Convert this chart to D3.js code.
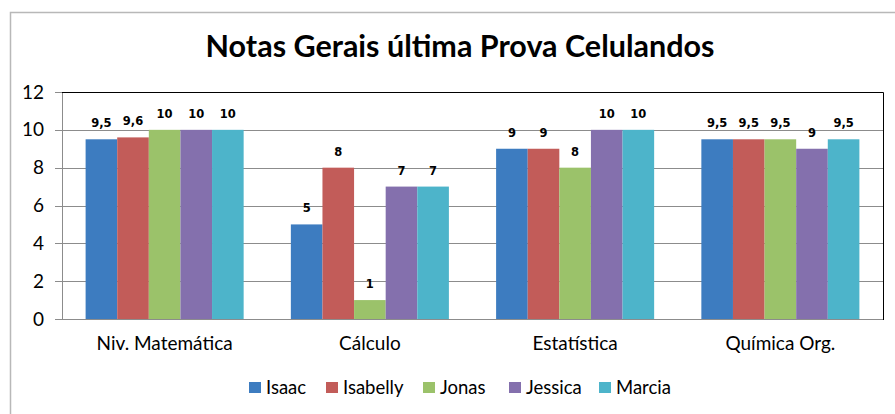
<!DOCTYPE html>
<html>
<head>
<meta charset="utf-8">
<script src="https://cdn.jsdelivr.net/npm/d3@7"></script>
<style>
  body { margin: 0; background: #fff; }
  svg { display: block; }
</style>
</head>
<body>
<div id="chart"></div>
<script>
var categories = ['Niv. Matemática', 'Cálculo', 'Estatística', 'Química Org.'];
var seriesNames = ['Isaac', 'Isabelly', 'Jonas', 'Jessica', 'Marcia'];
var isaac = [9.5, 5, 9, 9.5];
var isabelly = [9.6, 8, 9, 9.5];
var jonas = [10, 1, 8, 9.5];
var jessica = [10, 7, 10, 9];
var marcia = [10, 7, 10, 9.5];
var yTicks = [0, 2, 4, 6, 8, 10, 12];
var colors = ['#3d7cc0', '#c25c59', '#9bc26a', '#8470ad', '#4db4ca'];

var seriesValues = [isaac, isabelly, jonas, jessica, marcia];

var width = 895, height = 414;
var plot = {left: 62, right: 883, top: 92, bottom: 319};
var font = 'Lato, "Open Sans", sans-serif';

var svg = d3.select('#chart').append('svg')
  .attr('width', width).attr('height', height);

// outer chart frame
svg.append('rect')
  .attr('x', 10.5).attr('y', 12.5)
  .attr('width', 900).attr('height', 420)
  .attr('fill', '#fff').attr('stroke', '#b8b8b8').attr('stroke-width', 1.5);

svg.append('text')
  .attr('x', 460).attr('y', 57)
  .attr('text-anchor', 'middle')
  .attr('font-family', font)
  .attr('font-weight', 'bold')
  .attr('font-size', 30.5)
  .attr('fill', '#000')
  .text('Notas Gerais última Prova Celulandos');

var x0 = d3.scaleBand().domain(categories).range([plot.left, plot.right]);
var groupPad = 0.23;
var x1 = d3.scaleBand().domain(seriesNames)
  .range([x0.bandwidth() * groupPad / 2, x0.bandwidth() * (1 - groupPad / 2)]);
var y = d3.scaleLinear().domain([0, 12]).range([plot.bottom, plot.top]);

// gridlines + tick marks
svg.append('g').selectAll('line').data(yTicks).enter().append('line')
  .attr('x1', plot.left - 7).attr('x2', plot.right)
  .attr('y1', function (d) { return Math.round(y(d)) + 0.5; })
  .attr('y2', function (d) { return Math.round(y(d)) + 0.5; })
  .attr('stroke', '#8c8c8c').attr('stroke-width', 1);

var yAxis = svg.append('g')
  .attr('transform', 'translate(' + 44 + ',0)')
  .call(d3.axisLeft(y).tickValues(yTicks).tickSize(0).tickPadding(0).tickFormat(d3.format('d')));
yAxis.select('.domain').remove();
yAxis.selectAll('text')
  .attr('font-family', font)
  .attr('font-size', 19).attr('fill', '#000');

// bars
var groups = svg.append('g').selectAll('g').data(categories).enter().append('g')
  .attr('transform', function (d) { return 'translate(' + x0(d) + ',0)'; });

groups.selectAll('rect').data(function (c, i) {
  return seriesNames.map(function (s, j) { return {name: s, value: seriesValues[j][i], j: j}; });
}).enter().append('rect')
  .attr('x', function (d) { return x1(d.name); })
  .attr('y', function (d) { return y(d.value); })
  .attr('width', x1.bandwidth())
  .attr('height', function (d) { return y(0) - y(d.value); })
  .attr('fill', function (d) { return colors[d.j]; });

groups.selectAll('text').data(function (c, i) {
  return seriesNames.map(function (s, j) { return {name: s, value: seriesValues[j][i]}; });
}).enter().append('text')
  .attr('x', function (d) { return x1(d.name) + x1.bandwidth() / 2; })
  .attr('y', function (d) { return y(d.value) - 12; })
  .attr('text-anchor', 'middle')
  .attr('font-family', '"DejaVu Sans", Verdana, sans-serif')
  .attr('font-weight', 'bold')
  .attr('font-size', 11.5)
  .attr('fill', '#000')
  .text(function (d) { return String(d.value).replace('.', ','); });

// axes lines
svg.append('line')
  .attr('x1', plot.left + 0.5).attr('x2', plot.left + 0.5)
  .attr('y1', plot.top).attr('y2', plot.bottom + 1)
  .attr('stroke', '#8c8c8c');
svg.append('line')
  .attr('x1', plot.left).attr('x2', plot.right)
  .attr('y1', plot.bottom + 0.5).attr('y2', plot.bottom + 0.5)
  .attr('stroke', '#8c8c8c');
// plot area border top/right
svg.append('path')
  .attr('d', 'M' + (plot.left) + ',' + (plot.top + 0.5) + 'H' + (plot.right + 0.5) + 'V' + (plot.bottom + 1))
  .attr('fill', 'none').attr('stroke', '#000').attr('stroke-width', 1);

var xAxis = svg.append('g')
  .call(d3.axisBottom(x0).tickSize(0));
xAxis.select('.domain').remove();
xAxis.selectAll('text')
  .attr('y', 350).attr('dy', 0)
  .attr('font-family', font)
  .attr('font-size', 19).attr('fill', '#000');

// legend
var legendX = [249, 326, 423, 509, 599];
var legend = svg.append('g').selectAll('g').data(seriesNames).enter().append('g')
  .attr('transform', function (d, i) { return 'translate(' + legendX[i] + ',388)'; });
legend.append('rect')
  .attr('x', 0).attr('y', -6).attr('width', 12).attr('height', 11)
  .attr('fill', function (d, i) { return colors[i]; });
legend.append('text')
  .attr('x', 17).attr('y', 0).attr('dy', '0.35em')
  .attr('font-family', font)
  .attr('font-size', 18.5).attr('fill', '#000')
  .text(function (d) { return d; });
</script>
</body>
</html>
